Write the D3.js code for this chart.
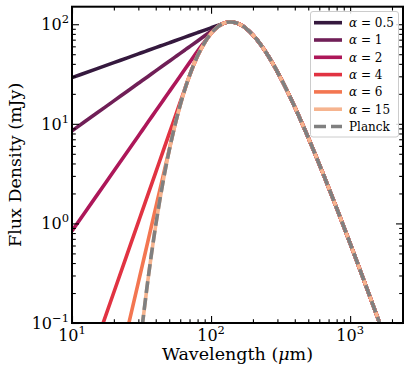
<!DOCTYPE html>
<html>
<head>
<meta charset="utf-8">
<script src="https://cdn.jsdelivr.net/npm/d3@7"></script>
<style>
  html, body { margin: 0; padding: 0; background: #fff; }
  svg { display: block; }
  text { font-family: "DejaVu Serif", serif; fill: #000; }
</style>
</head>
<body>
<svg id="chart" width="412" height="372"></svg>
<script>
// ---- data ----
const wavelengths = [10, 15, 20, 25, 30, 32, 35, 40, 45, 50, 55, 60, 65, 70, 80, 90, 100, 110, 115, 120, 130, 138, 145, 160, 180, 200, 230, 260, 300, 350, 400, 470, 550, 650, 800, 1000, 1200, 1450, 1700, 2000, 2400];

const fluxAlpha05 = [29.1, 35.63, 41.14, 46.0, 50.39, 52.04, 54.43, 58.19, 61.71, 65.05, 68.23, 71.26, 74.17, 76.97, 82.29, 87.28, 92.0, 96.49, 98.66, 100.78, 104.7, 105.4, 104.8,
  100.2, 89.98, 78.12, 61.18, 47.17, 33.30, 21.88, 14.75, 8.888, 5.287, 2.979, 1.425, 0.630, 0.319, 0.156, 0.0849, 0.0454, 0.0224];
const fluxAlpha1 = [8.5, 12.75, 17.0, 21.25, 25.5, 27.2, 29.75, 34.0, 38.25, 42.5, 46.75, 51.0, 55.25, 59.5, 68.0, 76.5, 85.0, 93.5, 97.75, 100.6, 104.5, 105.4, 104.8,
  100.2, 89.98, 78.12, 61.18, 47.17, 33.30, 21.88, 14.75, 8.888, 5.287, 2.979, 1.425, 0.630, 0.319, 0.156, 0.0849, 0.0454, 0.0224];
const fluxAlpha2 = [0.84, 1.89, 3.36, 5.25, 7.56, 8.60, 10.29, 13.44, 17.01, 21.0, 25.41, 30.24, 35.49, 41.16, 53.76, 67.0, 81.5, 92.6, 97.03, 100.44, 104.5, 105.4, 104.8,
  100.2, 89.98, 78.12, 61.18, 47.17, 33.30, 21.88, 14.75, 8.888, 5.287, 2.979, 1.425, 0.630, 0.319, 0.156, 0.0849, 0.0454, 0.0224];
const fluxAlpha4 = [0.0127, 0.0644, 0.2037, 0.4973, 1.031, 1.335, 1.910, 3.259, 5.220, 7.956, 11.65, 16.50, 22.72, 30.56, 48.13, 65.62, 80.86, 92.6, 97.03, 100.44, 104.5, 105.4, 104.8,
  100.2, 89.98, 78.12, 61.18, 47.17, 33.30, 21.88, 14.75, 8.888, 5.287, 2.979, 1.425, 0.630, 0.319, 0.156, 0.0849, 0.0454, 0.0224];
const fluxAlpha6 = [0.000351, 0.0040, 0.02246, 0.0857, 0.2559, 0.3769, 0.6452, 1.438, 2.915, 5.48, 9.72, 15.46, 22.51, 30.52, 48.13, 65.62, 80.86, 92.6, 97.03, 100.44, 104.5, 105.4, 104.8,
  100.2, 89.98, 78.12, 61.18, 47.17, 33.30, 21.88, 14.75, 8.888, 5.287, 2.979, 1.425, 0.630, 0.319, 0.156, 0.0849, 0.0454, 0.0224];
const fluxAlpha15 = [null, null, null, null, 0.0418, 0.0935, 0.258, 0.959, 2.551, 5.40, 9.70, 15.46, 22.51, 30.52, 48.13, 65.62, 80.86, 92.6, 97.03, 100.44, 104.5, 105.4, 104.8,
  100.2, 89.98, 78.12, 61.18, 47.17, 33.30, 21.88, 14.75, 8.888, 5.287, 2.979, 1.425, 0.630, 0.319, 0.156, 0.0849, 0.0454, 0.0224];
const fluxPlanck = [null, null, null, null, 0.0418, 0.0935, 0.258, 0.959, 2.551, 5.40, 9.70, 15.46, 22.51, 30.52, 48.13, 65.62, 80.86, 92.6, 97.03, 100.44, 104.5, 105.4, 104.8,
  100.2, 89.98, 78.12, 61.18, 47.17, 33.30, 21.88, 14.75, 8.888, 5.287, 2.979, 1.425, 0.630, 0.319, 0.156, 0.0849, 0.0454, 0.0224];

const seriesNames = ["0.5", "1", "2", "4", "6", "15"];
const seriesValues = [fluxAlpha05, fluxAlpha1, fluxAlpha2, fluxAlpha4, fluxAlpha6, fluxAlpha15];
const seriesColors = ["#35193e", "#701f57", "#ad1759", "#e13342", "#f37651", "#f6b48f"];
const planckColor = "#808080";

const xMajorTicks = [10, 100, 1000];
const xExponents = ["1", "2", "3"];
const yMajorTicks = [0.1, 1, 10, 100];
const yExponents = ["\u22121", "0", "1", "2"];

// ---- layout ----
const svg = d3.select("#chart");
const mLeft = 72, mRight = 403, mTop = 6.7, mBottom = 323;

const x = d3.scaleLog().domain([10, 2400]).range([mLeft, mRight]);
const y = d3.scaleLog().domain([0.1, 150]).range([mBottom, mTop]);

svg.append("defs").append("clipPath").attr("id", "plotclip")
  .append("rect").attr("x", mLeft).attr("y", mTop).attr("width", mRight - mLeft).attr("height", mBottom - mTop);

const plot = svg.append("g").attr("clip-path", "url(#plotclip)");

const line = d3.line()
  .defined(d => d[1] != null)
  .x(d => x(d[0]))
  .y(d => y(d[1]))
  .curve(d3.curveMonotoneX);

seriesValues.forEach((vals, i) => {
  const pts = wavelengths.map((w, j) => [w, vals[j]]);
  plot.append("path").attr("d", line(pts))
    .attr("fill", "none").attr("stroke", seriesColors[i])
    .attr("stroke-width", 3.6).attr("stroke-linecap", "butt");
});
plot.append("path").attr("d", line(wavelengths.map((w, j) => [w, fluxPlanck[j]])))
  .attr("fill", "none").attr("stroke", planckColor)
  .attr("stroke-width", 3.6).attr("stroke-dasharray", "12,5");

// ---- axes (ticks inward on all four sides) ----
const xMinor = [];
[10, 100, 1000].forEach(d => { for (let k = 2; k <= 9; k++) if (d * k <= 2400) xMinor.push(d * k); });
const yMinor = [];
[0.1, 1, 10, 100].forEach(d => { for (let k = 2; k <= 9; k++) if (d * k <= 150) yMinor.push(d * k); });

function styleAxis(g) {
  g.select(".domain").remove();
  g.selectAll("line").attr("stroke", "#000").attr("stroke-width", 1.1);
}

const axB = d3.axisBottom(x).tickValues(xMajorTicks).tickSize(-7).tickFormat("");
const axBm = d3.axisBottom(x).tickValues(xMinor).tickSize(-3.8).tickFormat("");
const axT = d3.axisTop(x).tickValues(xMajorTicks).tickSize(-7).tickFormat("");
const axTm = d3.axisTop(x).tickValues(xMinor).tickSize(-3.8).tickFormat("");
const axL = d3.axisLeft(y).tickValues(yMajorTicks).tickSize(-7).tickFormat("");
const axLm = d3.axisLeft(y).tickValues(yMinor).tickSize(-3.8).tickFormat("");
const axR = d3.axisRight(y).tickValues(yMajorTicks).tickSize(-7).tickFormat("");
const axRm = d3.axisRight(y).tickValues(yMinor).tickSize(-3.8).tickFormat("");

svg.append("g").attr("transform", `translate(0,${mBottom})`).call(axB).call(styleAxis);
svg.append("g").attr("transform", `translate(0,${mBottom})`).call(axBm).call(styleAxis);
svg.append("g").attr("transform", `translate(0,${mTop})`).call(axT).call(styleAxis);
svg.append("g").attr("transform", `translate(0,${mTop})`).call(axTm).call(styleAxis);
svg.append("g").attr("transform", `translate(${mLeft},0)`).call(axL).call(styleAxis);
svg.append("g").attr("transform", `translate(${mLeft},0)`).call(axLm).call(styleAxis);
svg.append("g").attr("transform", `translate(${mRight},0)`).call(axR).call(styleAxis);
svg.append("g").attr("transform", `translate(${mRight},0)`).call(axRm).call(styleAxis);

svg.append("rect").attr("x", mLeft).attr("y", mTop).attr("width", mRight - mLeft).attr("height", mBottom - mTop)
  .attr("fill", "none").attr("stroke", "#000").attr("stroke-width", 2);

// tick labels
xMajorTicks.forEach((v, i) => {
  const t = svg.append("text").attr("x", x(v)).attr("y", mBottom + 17.5)
    .attr("text-anchor", "middle").attr("font-size", 16);
  t.append("tspan").text("10");
  t.append("tspan").attr("dy", -7).attr("font-size", 11.5).text(xExponents[i]);
});
yMajorTicks.forEach((v, i) => {
  const t = svg.append("text").attr("x", mLeft - 3).attr("y", y(v) + 6)
    .attr("text-anchor", "end").attr("font-size", 16);
  t.append("tspan").text("10");
  t.append("tspan").attr("dy", -7).attr("font-size", 11.5).text(yExponents[i]);
});

// axis labels
const xl = svg.append("text").attr("x", (mLeft + mRight) / 2).attr("y", 359.5)
  .attr("text-anchor", "middle").attr("font-size", 17.5);
xl.append("tspan").text("Wavelength (");
xl.append("tspan").attr("font-style", "italic").text("\u03bc");
xl.append("tspan").text("m)");

svg.append("text").attr("transform", `translate(20.5,${(mTop + mBottom) / 2}) rotate(-90)`)
  .attr("text-anchor", "middle").attr("font-size", 17.5).text("Flux Density (mJy)");

// ---- legend ----
const lg = svg.append("g");
lg.append("rect").attr("x", 310.5).attr("y", 11.5).attr("width", 88).attr("height", 125.5)
  .attr("rx", 2.5).attr("fill", "#fff").attr("fill-opacity", 0.85)
  .attr("stroke", "#cccccc").attr("stroke-width", 1);
const rowY = i => 22.7 + i * 17.3;
seriesNames.forEach((nm, i) => {
  lg.append("line").attr("x1", 314).attr("x2", 342).attr("y1", rowY(i)).attr("y2", rowY(i))
    .attr("stroke", seriesColors[i]).attr("stroke-width", 3.6);
  const t = lg.append("text").attr("x", 349).attr("y", rowY(i) + 4.3).attr("font-size", 12);
  t.append("tspan").attr("font-style", "italic").text("\u03b1");
  t.append("tspan").text(" = " + nm);
});
lg.append("line").attr("x1", 314).attr("x2", 342).attr("y1", rowY(6)).attr("y2", rowY(6))
  .attr("stroke", planckColor).attr("stroke-width", 3.6).attr("stroke-dasharray", "12,5");
lg.append("text").attr("x", 349).attr("y", rowY(6) + 4.3).attr("font-size", 12).text("Planck");
</script>
</body>
</html>
